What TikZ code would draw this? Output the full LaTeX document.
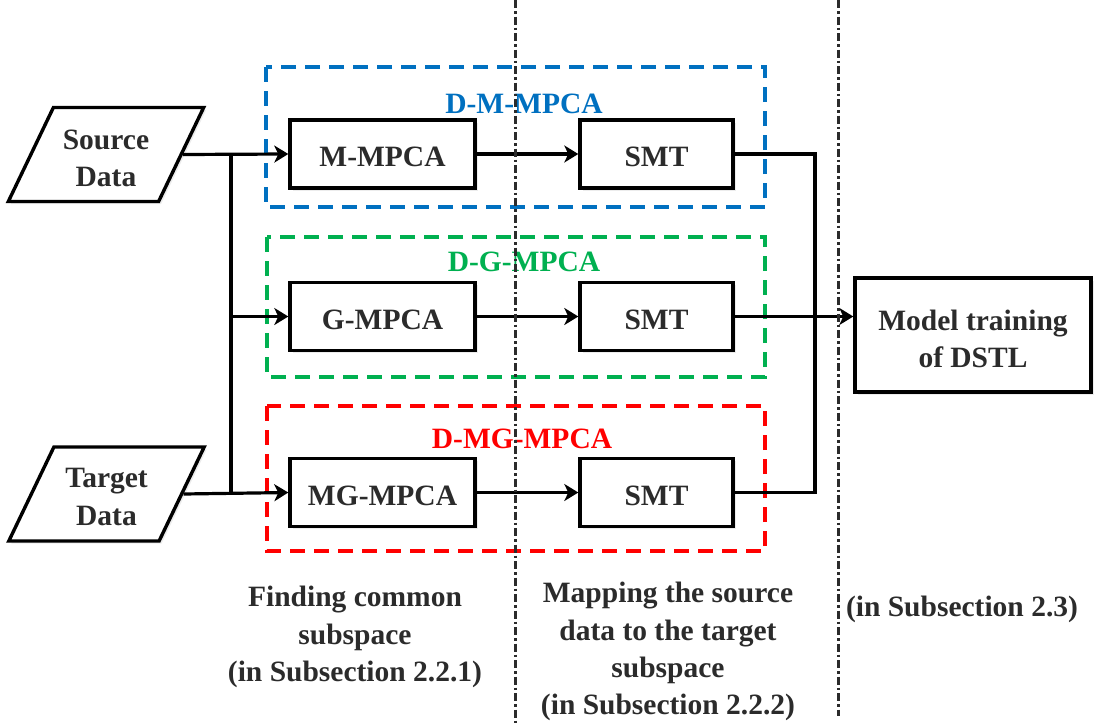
\documentclass[tikz,border=0pt]{standalone}
\usepackage{fontspec}
\setmainfont{Liberation Serif}
\usetikzlibrary{shapes.geometric,arrows.meta,shadows}
\definecolor{ink}{HTML}{2B2B2B}
\definecolor{cblue}{HTML}{0070C0}
\definecolor{cgreen}{HTML}{00B050}
\definecolor{cred}{HTML}{FF0000}
\begin{document}
\begin{tikzpicture}[x=1pt,y=-1pt,
  lbl/.style={font=\bfseries\fontsize{29.5}{37.2}\selectfont, text=ink, align=center},
  shd/.style={drop shadow={shadow xshift=2.5pt, shadow yshift=-2.5pt, fill=black!15}},
  proc/.style={draw=black, fill=white, line width=3.4pt, rectangle, minimum height=68pt, inner sep=0pt, lbl, text height=25pt, text depth=0pt, shd},
  bigbox/.style={draw=black, fill=white, line width=3.4pt, rectangle, inner sep=0pt, shd},
  data/.style={draw=black, fill=white, line width=3.4pt, trapezium, trapezium left angle=64.7, trapezium right angle=115.3, trapezium stretches=true, minimum width=196pt, minimum height=94pt, inner sep=0pt, shd, lbl},
  grp/.style={line width=3.3pt, dash pattern=on 15pt off 9pt},
  conn/.style={line width=3.2pt, draw=black},
  arr/.style={conn, -{Stealth[length=14pt,width=17pt,inset=4pt]}},
  sep/.style={line width=3pt, draw=ink, dash pattern=on 8pt off 3pt on 2.5pt off 3pt},
]
\useasboundingbox (0,0) rectangle (1094,723);
% groups
\draw[grp, cblue]  (266,67)  rectangle (765,207);
\draw[grp, cgreen] (267,237) rectangle (765,377);
\draw[grp, cred]   (267,406) rectangle (765,551);
\node[lbl, text=cblue]  (gl1) at (524,104) {D-M-MPCA};
\node[lbl, text=cgreen] (gl2) at (524,262) {D-G-MPCA};
\node[lbl, text=cred]   (gl3) at (522,439) {D-MG-MPCA};
% data
\node[data] (src) at (106,154.5) {\phantom{X}};
\node[lbl] (srcT) at (106,158.5) {Source\\Data};
\node[data] (tgt) at (106.5,494) {\phantom{X}};
\node[lbl] (tgtT) at (106.5,497) {Target\\Data};
% process boxes
\node[proc, minimum width=185pt] (mm)  at (382.5,154)   {M-MPCA};
\node[proc, minimum width=153pt] (s1)  at (656.5,154)   {SMT};
\node[proc, minimum width=185pt] (gm)  at (382.5,316.5) {G-MPCA};
\node[proc, minimum width=153pt] (s2)  at (656.5,316.5) {SMT};
\node[proc, minimum width=185pt] (mgm) at (382.5,492.5) {MG-MPCA};
\node[proc, minimum width=153pt] (s3)  at (656.5,492.5) {SMT};
\node[bigbox, minimum width=236pt, minimum height=114pt] (model) at (973,335) {};
\node[lbl] (modelT) at (973,339) {Model training\\of DSTL};
% connectors
\coordinate (j1) at (231,154);
\coordinate (j2) at (231,316.5);
\coordinate (j3) at (231,493.5);
\coordinate (c1) at (815,154);
\coordinate (c3) at (815,492.5);
\draw[arr] (src.east) -- (mm.west);
\draw[arr] (tgt.east) -- (mgm.west);
\draw[conn] (j1) -- (j3);
\draw[arr] (j2) -- (gm.west);
\draw[arr] (mm.east) -- (s1.west);
\draw[arr] (gm.east) -- (s2.west);
\draw[arr] (mgm.east) -- (s3.west);
\draw[conn] (s1.east) -- (c1) -- (c3) -- (s3.east);
\draw[arr] (s2.east) -- (s2.east -| model.west);
% bottom labels
\node[lbl] (f1) at (355,637) {Finding common\\subspace\\(in Subsection 2.2.1)};
\node[lbl] (f2) at (668,651.5) {Mapping the source\\data to the target\\subspace\\(in Subsection 2.2.2)};
\node[lbl] (f3) at (962,609) {(in Subsection 2.3)};
% separators
\coordinate (t1) at (515,0);
\coordinate (b1) at (515,723);
\coordinate (t2) at (838,0);
\coordinate (b2) at (838,716);
\draw[sep] (t1) -- (b1);
\draw[sep] (t2) -- (b2);
\end{tikzpicture}
\end{document}
